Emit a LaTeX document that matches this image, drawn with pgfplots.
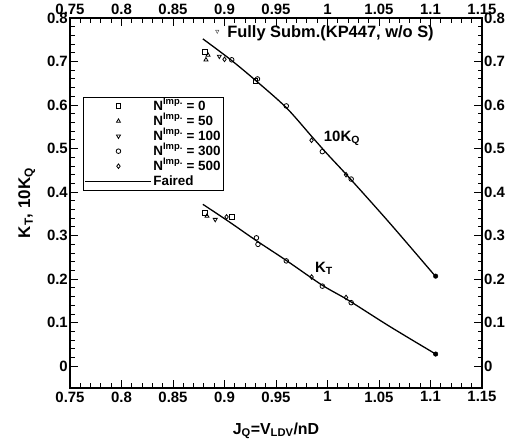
\documentclass[border=0pt]{standalone}
\usepackage{pgfplots}
\pgfplotsset{compat=1.18}
\usepackage{fontspec}
\setmainfont{Liberation Sans}
\newfontfamily\dejavu{DejaVu Sans}
\begin{document}
\begin{tikzpicture}[font=\bfseries]
\useasboundingbox (-70bp,-51bp) rectangle (451bp,388bp);
\pgfplotsset{common/.style={
  width=412bp, height=370bp, scale only axis,
  xmin=0.75, xmax=1.15, ymin=-0.05, ymax=0.8,
  xtick={0.75,0.8,0.85,0.9,0.95,1,1.05,1.1,1.15},
  ytick={0,0.1,0.2,0.3,0.4,0.5,0.6,0.7,0.8},
  minor x tick num=4, minor y tick num=4,
  tick align=inside,
  major tick length=8bp, minor tick length=4.5bp,
  tick style={line width=1pt, black},
  axis line style={line width=1.3pt},
  ticklabel style={font=\fontsize{15}{16}\selectfont\bfseries},
  yticklabel style={inner sep=2bp},
  /pgf/number format/assume math mode=true,
  /pgf/number format/fixed,
  /pgf/number format/precision=2,
}}
\begin{axis}[common,
  xticklabel style={inner sep=3.5bp},
  xlabel={J\textsubscript{Q}=V\textsubscript{LDV}/nD},
  ylabel={K\textsubscript{T}, 10K\textsubscript{Q}},
  every axis x label/.style={at={(axis description cs:0.5,-0.116)}, anchor=center, font=\fontsize{16}{18}\selectfont\bfseries},
  every axis y label/.style={at={(axis description cs:-0.105,0.5)}, rotate=90, anchor=center, font=\fontsize{17}{19}\selectfont\bfseries},
  legend style={at={(axis description cs:0.0316,0.786)}, anchor=north west,
    draw=black, line width=0.6pt, inner sep=1.5bp, row sep=0.6bp,
    font=\fontsize{13.5}{13.5}\selectfont\bfseries,
    nodes={inner sep=1.2bp, text height=10bp, text depth=2bp}},
  legend cell align=left,
  legend image code/.code={\draw[mark repeat=2,mark phase=2,#1] plot coordinates {(0bp,0bp) (33bp,0bp) (66bp,0bp)};},
  mark size=2.3bp,
]
\addplot[only marks, mark=square, mark options={line width=0.8pt}] coordinates {
  (0.881,0.722) (0.930,0.655) (0.881,0.352) (0.907,0.343)};
\addlegendentry{N\textsuperscript{Imp.} = 0}
\addplot[only marks, mark=triangle, mark options={line width=0.8pt}] coordinates {
  (0.882,0.704) (0.884,0.715) (0.883,0.345)};
\addlegendentry{N\textsuperscript{Imp.} = 50}
\addplot[only marks, mark=triangle, mark options={rotate=180, line width=0.8pt}] coordinates {
  (0.895,0.712) (0.891,0.337)};
\addlegendentry{N\textsuperscript{Imp.} = 100}
\addplot[only marks, mark=o, mark options={line width=0.8pt}] coordinates {
  (0.907,0.704) (0.932,0.660) (0.960,0.598) (0.995,0.493) (1.023,0.430)
  (0.931,0.295) (0.9325,0.280) (0.960,0.242) (0.995,0.184) (1.023,0.146)};
\addlegendentry{N\textsuperscript{Imp.} = 300}
\addplot[only marks, mark=diamond, mark options={line width=0.8pt}] coordinates {
  (0.900,0.705) (0.9845,0.519) (1.018,0.440)
  (0.902,0.343) (0.9846,0.205) (1.018,0.158)};
\addlegendentry{N\textsuperscript{Imp.} = 500}
\addplot[black, line width=1.3pt, mark=none, smooth] coordinates {
  (0.879,0.752) (0.905,0.706) (0.930,0.657) (0.960,0.594) (0.985,0.527)
  (1.000,0.487) (1.020,0.436) (1.060,0.330) (1.105,0.206)};
\addlegendentry{Faired}
\addplot[black, line width=1.3pt, mark=none, smooth, forget plot] coordinates {
  (0.879,0.372) (0.905,0.331) (0.930,0.290) (0.960,0.243) (0.995,0.186) (1.020,0.152) (1.060,0.092) (1.105,0.028)};
\addplot[only marks, mark=*, mark size=2.3bp, forget plot] coordinates {(1.105,0.207) (1.105,0.028)};
\node[anchor=center, font=\fontsize{8}{8}\selectfont\dejavu] at (axis cs:0.893,0.766) {▿};
\node[anchor=west, inner sep=0pt, font=\fontsize{16.5}{18}\selectfont\bfseries] at (axis cs:0.9025,0.766) {Fully Subm.(KP447, w/o S)};
\node[anchor=center, font=\fontsize{15}{17}\selectfont\bfseries] at (axis cs:1.014,0.523) {10K\textsubscript{Q}};
\node[anchor=center, font=\fontsize{15}{17}\selectfont\bfseries] at (axis cs:0.9966,0.225) {K\textsubscript{T}};
\end{axis}
\begin{axis}[common, xticklabel pos=right, yticklabel pos=right]
\end{axis}
\end{tikzpicture}
\end{document}
